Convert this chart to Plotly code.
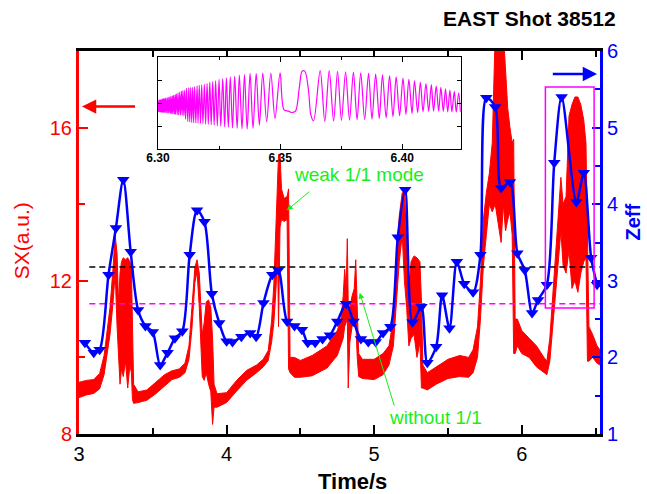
import plotly.graph_objects as go

# ---------------- data ----------------
# SX signal: lower / upper edge of the fast-oscillating trace (a.u.)
sx_time = [3.000, 3.050, 3.100, 3.140, 3.170, 3.190, 3.210, 3.230, 3.245, 3.258,
           3.268, 3.278, 3.288, 3.300, 3.315, 3.330, 3.345, 3.355, 3.362, 3.370,
           3.400, 3.460, 3.520, 3.580, 3.630, 3.680, 3.718, 3.745, 3.765, 3.785,
           3.800, 3.815, 3.825, 3.835, 3.848, 3.862, 3.878, 3.893, 3.905, 3.915,
           3.935, 4.000, 4.068, 4.135, 4.203, 4.248, 4.282, 4.305, 4.320, 4.335,
           4.345, 4.352, 4.362, 4.372, 4.390, 4.410, 4.420, 4.430, 4.460, 4.500,
           4.580, 4.680, 4.750, 4.775, 4.790, 4.800, 4.810, 4.818, 4.824, 4.835,
           4.850, 4.865, 4.875, 4.885, 4.895, 4.920, 5.000, 5.060, 5.100, 5.130,
           5.150, 5.170, 5.190, 5.205, 5.220, 5.235, 5.250, 5.270, 5.290, 5.310,
           5.320, 5.330, 5.360, 5.420, 5.500, 5.580, 5.640, 5.670, 5.700, 5.720,
           5.740, 5.760, 5.780, 5.800, 5.820, 5.840, 5.860, 5.875, 5.890, 5.905,
           5.920, 5.935, 5.945, 5.955, 5.970, 6.000, 6.050, 6.100, 6.150, 6.170,
           6.190, 6.210, 6.230, 6.250, 6.265, 6.280, 6.300, 6.320, 6.340, 6.360,
           6.380, 6.400, 6.420, 6.435, 6.445, 6.455, 6.480, 6.510, 6.530]
sx_low = [8.95, 9.02, 9.06, 9.18, 9.55, 10.10, 10.60, 11.40, 12.20, 10.80,
          10.20, 9.30, 9.70, 9.50, 9.90, 9.20, 9.80, 9.60, 8.90, 8.80,
          8.82, 8.88, 9.05, 9.25, 9.42, 9.48, 9.60, 9.95, 10.75, 11.95,
          12.25, 11.30, 10.30, 9.50, 9.40, 9.60, 9.30, 9.10, 8.25, 8.70,
          8.70, 8.82, 9.12, 9.40, 9.60, 9.75, 9.92, 10.40, 10.90, 11.80,
          12.80, 10.80, 13.40, 13.60, 13.55, 13.60, 9.70, 9.60, 9.48, 9.48,
          9.52, 9.72, 10.05, 10.30, 10.50, 10.80, 10.90, 11.00, 9.20, 10.40,
          10.80, 10.90, 11.00, 10.00, 9.50, 9.45, 9.42, 9.55, 9.80, 10.30,
          11.30, 12.50, 13.20, 12.00, 11.30, 10.30, 10.50, 10.60, 10.00, 10.40,
          9.20, 9.20, 9.15, 9.30, 9.45, 9.50, 9.48, 9.60, 10.00, 11.00,
          12.40, 13.30, 14.00, 13.80, 14.00, 13.50, 13.00, 14.00, 13.30, 13.60,
          13.80, 13.20, 10.10, 10.10, 10.30, 10.10, 10.00, 9.75, 9.60, 9.55,
          9.90, 10.80, 11.80, 12.80, 13.30, 12.40, 12.20, 12.80, 11.80, 12.00,
          11.70, 12.20, 12.50, 12.60, 9.90, 9.90, 10.00, 9.85, 9.80]
sx_high = [9.35, 9.40, 9.42, 9.58, 10.05, 10.65, 11.30, 12.30, 13.20, 12.70,
           11.40, 12.20, 12.50, 12.60, 12.55, 12.60, 12.50, 12.30, 11.20, 9.30,
           9.10, 9.15, 9.35, 9.55, 9.65, 9.70, 9.85, 10.30, 11.30, 12.35,
           12.55, 12.20, 11.40, 10.60, 10.90, 11.45, 11.50, 11.30, 10.50, 9.30,
           9.05, 9.08, 9.40, 9.66, 9.80, 9.95, 10.18, 10.95, 11.90, 13.60,
           14.50, 15.30, 15.30, 14.40, 14.15, 14.20, 14.40, 10.00, 10.00, 9.92,
           10.05, 10.30, 10.70, 11.00, 11.60, 12.30, 11.80, 13.10, 11.40, 11.30,
           11.60, 11.80, 12.55, 11.30, 10.10, 9.95, 9.95, 10.10, 10.30, 11.00,
           12.50, 13.70, 14.30, 14.30, 13.00, 11.80, 12.50, 12.65, 12.60, 12.50,
           11.50, 9.80, 9.60, 9.75, 9.95, 10.05, 10.00, 10.20, 10.80, 12.00,
           13.60, 14.30, 14.80, 15.60, 18.50, 18.50, 18.50, 18.50, 17.50, 16.50,
           16.00, 15.60, 15.70, 11.00, 11.00, 10.70, 10.50, 10.30, 10.00, 9.90,
           10.50, 11.60, 12.80, 13.90, 14.70, 14.00, 14.20, 16.30, 16.60, 16.80,
           16.80, 16.60, 16.20, 15.60, 12.90, 10.80, 10.60, 10.30, 10.20]

# Zeff measurements
zeff_time = [3.04, 3.10, 3.14, 3.20, 3.25, 3.30, 3.35, 3.40, 3.45, 3.50,
             3.55, 3.60, 3.65, 3.70, 3.75, 3.80, 3.85, 3.90, 3.95, 4.00,
             4.04, 4.10, 4.16, 4.20, 4.25, 4.31, 4.35, 4.41, 4.46, 4.51,
             4.55, 4.60, 4.65, 4.70, 4.75, 4.81, 4.86, 4.91, 4.96, 5.01,
             5.06, 5.11, 5.16, 5.21, 5.26, 5.32, 5.36, 5.42, 5.46, 5.51,
             5.56, 5.61, 5.67, 5.72, 5.76, 5.82, 5.86, 5.92, 5.97, 6.02,
             6.07, 6.11, 6.17, 6.22, 6.27, 6.37, 6.42, 6.47, 6.51]
zeff_val = [2.19, 2.06, 2.10, 3.08, 3.69, 4.32, 3.38, 2.62, 2.41, 2.33,
            1.90, 2.06, 2.25, 2.34, 3.34, 3.92, 3.77, 2.83, 2.45, 2.21,
            2.20, 2.27, 2.32, 2.27, 2.71, 3.08, 3.14, 2.47, 2.41, 2.36,
            2.19, 2.19, 2.24, 2.29, 2.47, 2.70, 2.47, 2.24, 2.20, 2.20,
            2.32, 2.40, 3.57, 4.19, 2.46, 2.66, 1.93, 2.14, 2.81, 2.38,
            3.25, 2.96, 2.85, 3.34, 5.39, 5.27, 4.21, 4.29, 3.36, 3.14,
            2.58, 2.75, 2.95, 4.54, 5.40, 4.03, 4.41, 3.30, 2.95]

# zoomed SX trace 6.30-6.42 s: successive turning points of the oscillation
inset_time = [6.3000, 6.3003, 6.3005, 6.3007, 6.3009, 6.3011, 6.3013, 6.3015, 6.3017, 6.3019,
              6.3021, 6.3023, 6.3025, 6.3027, 6.3029, 6.3031, 6.3034, 6.3037, 6.3040, 6.3042,
              6.3045, 6.3048, 6.3051, 6.3053, 6.3056, 6.3059, 6.3061, 6.3064, 6.3067, 6.3070,
              6.3072, 6.3075, 6.3079, 6.3082, 6.3085, 6.3089, 6.3092, 6.3096, 6.3099, 6.3102,
              6.3106, 6.3109, 6.3113, 6.3117, 6.3122, 6.3126, 6.3130, 6.3134, 6.3138, 6.3142,
              6.3146, 6.3150, 6.3155, 6.3160, 6.3164, 6.3169, 6.3174, 6.3179, 6.3184, 6.3190,
              6.3195, 6.3201, 6.3206, 6.3212, 6.3218, 6.3224, 6.3230, 6.3236, 6.3243, 6.3250,
              6.3257, 6.3265, 6.3273, 6.3280, 6.3288, 6.3296, 6.3305, 6.3314, 6.3324, 6.3333,
              6.3344, 6.3354, 6.3365, 6.3377, 6.3389, 6.3402, 6.3415, 6.3429, 6.3445, 6.3462,
              6.3479, 6.3500, 6.3516, 6.3534, 6.3548, 6.3563, 6.3579, 6.3590, 6.3601, 6.3616,
              6.3626, 6.3637, 6.3664, 6.3683, 6.3701, 6.3719, 6.3735, 6.3751, 6.3768, 6.3784,
              6.3800, 6.3815, 6.3830, 6.3846, 6.3862, 6.3876, 6.3891, 6.3906, 6.3919, 6.3934,
              6.3948, 6.3962, 6.3975, 6.3989, 6.4003, 6.4015, 6.4027, 6.4040, 6.4050, 6.4063,
              6.4074, 6.4085, 6.4097, 6.4108, 6.4119, 6.4128, 6.4139, 6.4149, 6.4158, 6.4168,
              6.4177, 6.4186, 6.4195, 6.4203, 6.4213, 6.4221, 6.4231, 6.4238]
inset_sig = [-0.38, 0.13, -0.38, 0.14, -0.39, 0.15, -0.39, 0.16, -0.40, 0.18,
             -0.40, 0.19, -0.41, 0.20, -0.41, 0.22, -0.42, 0.24, -0.43, 0.25,
             -0.44, 0.26, -0.45, 0.30, -0.46, 0.32, -0.47, 0.34, -0.48, 0.37,
             -0.49, 0.40, -0.50, 0.45, -0.51, 0.48, -0.52, 0.51, -0.53, 0.54,
             -0.55, 0.56, -0.70, 0.64, -0.80, 0.66, -0.82, 0.68, -0.84, 0.69,
             -0.85, 0.71, -0.86, 0.75, -0.87, 0.77, -0.88, 0.79, -0.89, 0.82,
             -0.91, 0.85, -0.92, 0.91, -0.94, 0.94, -0.96, 0.97, -0.99, 1.03,
             -1.01, 1.07, -1.03, 1.10, -1.05, 1.14, -1.08, 1.17, -1.10, 1.22,
             -1.12, 1.24, -1.13, 1.29, -1.10, 1.29, -0.96, 1.30, -0.81, 1.31,
             -0.67, 1.32, -0.30, -0.35, -0.41, -0.35, 0.71, 1.39, 1.39, 0.57,
             -0.52, -0.77, 1.41, -0.80, 1.41, -0.78, 1.38, -0.75, 1.36, -0.74,
             1.35, -0.72, 1.32, -0.71, 1.29, -0.70, 1.26, -0.67, 1.23, -0.64,
             1.19, -0.59, 1.14, -0.55, 1.09, -0.49, 1.03, -0.45, 0.97, -0.41,
             0.91, -0.38, 0.85, -0.36, 0.80, -0.35, 0.74, -0.35, 0.68, -0.36,
             0.62, -0.38, 0.57, -0.38, 0.51, -0.39, 0.45, -0.38]

time_ticks = [3, 4, 5, 6]
sx_ticks = [8, 12, 16]
zeff_ticks = [1, 2, 3, 4, 5, 6]
inset_ticks = [6.30, 6.35, 6.40]

# reference Zeff levels and highlighted window
zeff_level_black = 3.18
zeff_level_magenta = 2.70
level_span = [3.07, 6.53]
box_time = [6.16, 6.49]
box_zeff = [2.645, 5.53]

# ---------------- styling ----------------
RED = "#ff0000"
BLUE = "#0000ff"
MAGENTA = "#ff00ff"
GREEN = "#19ee19"
FONT = "Liberation Sans, Arial, sans-serif"
NARROW = "Liberation Sans Narrow, Arial Narrow, Liberation Sans, sans-serif"

fig = go.Figure()

# SX trace drawn as a filled band between its lower and upper edge
fig.add_trace(go.Scatter(x=sx_time, y=sx_low, mode="lines",
                         line=dict(color=RED, width=1), xaxis="x", yaxis="y",
                         showlegend=False, hoverinfo="skip"))
fig.add_trace(go.Scatter(x=sx_time, y=sx_high, mode="lines", fill="tonexty",
                         fillcolor=RED, line=dict(color=RED, width=1),
                         xaxis="x", yaxis="y", showlegend=False))

# dashed reference levels
fig.add_trace(go.Scatter(x=level_span, y=[zeff_level_black] * 2, mode="lines",
                         line=dict(color="black", width=1.5, dash="6px,4px"),
                         xaxis="x", yaxis="y2", showlegend=False))
fig.add_trace(go.Scatter(x=level_span, y=[zeff_level_magenta] * 2, mode="lines",
                         line=dict(color=MAGENTA, width=1.5, dash="6px,4px"),
                         xaxis="x", yaxis="y2", showlegend=False))

# Zeff
fig.add_trace(go.Scatter(x=zeff_time, y=zeff_val, mode="lines+markers",
                         line=dict(color=BLUE, width=2.5, shape="spline", smoothing=0.8),
                         marker=dict(symbol="triangle-down", size=11, color=BLUE),
                         xaxis="x", yaxis="y2", showlegend=False))

# zoomed view
fig.add_trace(go.Scatter(x=inset_time, y=inset_sig, mode="lines",
                         line=dict(color=MAGENTA, width=1.2, shape="spline", smoothing=0.9),
                         xaxis="x2", yaxis="y3", showlegend=False))

# highlighted window
fig.add_shape(type="rect", xref="x", yref="y2", x0=box_time[0], x1=box_time[1],
              y0=box_zeff[0], y1=box_zeff[1], line=dict(color=MAGENTA, width=1.5),
              layer="above")

annotations = [
    # axis direction arrows
    dict(x=3.02, y=16.55, ax=3.39, ay=16.55, xref="x", yref="y", axref="x", ayref="y",
         text="", showarrow=True, arrowhead=2, arrowsize=1.1, arrowwidth=2.6, arrowcolor=RED),
    dict(x=6.51, y=5.70, ax=6.20, ay=5.70, xref="x", yref="y2", axref="x", ayref="y2",
         text="", showarrow=True, arrowhead=2, arrowsize=1.1, arrowwidth=2.6, arrowcolor=BLUE),
    # mode labels
    dict(x=4.408, y=13.84, ax=4.571, ay=14.36, xref="x", yref="y", axref="x", ayref="y",
         text="", showarrow=True, arrowhead=2, arrowsize=1.2, arrowwidth=1, arrowcolor=GREEN),
    dict(x=4.44, y=14.78, xref="x", yref="y", text="weak 1/1 mode", showarrow=False,
         xanchor="left", yanchor="middle", font=dict(family=FONT, size=19, color=GREEN)),
    dict(x=4.902, y=11.69, ax=5.139, ay=8.70, xref="x", yref="y", axref="x", ayref="y",
         text="", showarrow=True, arrowhead=2, arrowsize=1.2, arrowwidth=1, arrowcolor=GREEN),
    dict(x=5.09, y=8.42, xref="x", yref="y", text="without 1/1", showarrow=False,
         xanchor="left", yanchor="middle", font=dict(family=FONT, size=19, color=GREEN)),
    # titles
    dict(x=0.864, y=1.084, xref="paper", yref="paper", text="<b>EAST Shot 38512</b>",
         showarrow=False, xanchor="center", yanchor="middle",
         font=dict(family=NARROW, size=21, color="black")),
    dict(x=-0.109, y=0.504, xref="paper", yref="paper", text="SX(a.u.)", textangle=-90,
         showarrow=False, xanchor="center", yanchor="middle",
         font=dict(family=FONT, size=21, color=RED)),
    dict(x=1.064, y=0.553, xref="paper", yref="paper", text="<b>Zeff</b>", textangle=-90,
         showarrow=False, xanchor="center", yanchor="middle",
         font=dict(family=FONT, size=20, color=BLUE)),
    dict(x=0.524, y=-0.123, xref="paper", yref="paper", text="<b>Time/s</b>",
         showarrow=False, xanchor="center", yanchor="middle",
         font=dict(family=NARROW, size=22, color="black")),
]

fig.update_layout(
    width=647, height=494,
    margin=dict(l=79, r=47, t=51, b=60),
    paper_bgcolor="white", plot_bgcolor="white",
    font=dict(family=FONT),
    annotations=annotations,
    xaxis=dict(range=[3.0, 6.53], tickvals=time_ticks, ticks="inside", ticklen=9,
               tickwidth=2, tickcolor="black", showline=True, linecolor="black",
               linewidth=3, mirror="ticks", showgrid=False, zeroline=False,
               tickfont=dict(family=FONT, size=20, color="black"),
               minor=dict(ticks="inside", dtick=0.5, tick0=3, ticklen=6, tickwidth=2,
                          tickcolor="black", showgrid=False),
               anchor="y", domain=[0, 1]),
    yaxis=dict(range=[8, 18], tickvals=sx_ticks, ticks="inside", ticklen=9, tickwidth=2,
               tickcolor=RED, showline=True, linecolor=RED, linewidth=3,
               showgrid=False, zeroline=False,
               tickfont=dict(family=FONT, size=20, color=RED),
               minor=dict(ticks="inside", dtick=2, tick0=8, ticklen=6, tickwidth=2,
                          tickcolor=RED, showgrid=False),
               anchor="x"),
    yaxis2=dict(range=[1, 6], tickvals=zeff_ticks, ticks="inside", ticklen=8, tickwidth=2,
                tickcolor=BLUE, showline=True, linecolor=BLUE, linewidth=3,
                showgrid=False, zeroline=False, side="right", overlaying="y",
                tickfont=dict(family=FONT, size=20, color=BLUE),
                minor=dict(ticks="inside", dtick=0.5, tick0=1, ticklen=5, tickwidth=2,
                           tickcolor=BLUE, showgrid=False),
                anchor="x"),
    xaxis2=dict(domain=[0.1516, 0.733], range=[6.30, 6.424], tickvals=inset_ticks,
                tickformat=".2f", ticks="inside", ticklen=5, tickwidth=1,
                tickcolor="black", showline=True, linecolor="black", linewidth=1.3,
                mirror="ticks", showgrid=False, zeroline=False, ticklabelstandoff=-3,
                tickfont=dict(family=NARROW, size=12, color="black", weight="bold"),
                minor=dict(ticks="inside", dtick=0.025, tick0=6.30, ticklen=3,
                           tickwidth=1, tickcolor="black", showgrid=False),
                anchor="y3"),
    yaxis3=dict(domain=[0.744, 0.984], range=[-2, 2], tickvals=[-1, 0, 1],
                showticklabels=False, ticks="inside", ticklen=4, tickwidth=1,
                tickcolor="black", showline=True, linecolor="black", linewidth=1.3,
                mirror="ticks", showgrid=False, zeroline=False, anchor="x2"),
)

fig.write_html("out.html")
